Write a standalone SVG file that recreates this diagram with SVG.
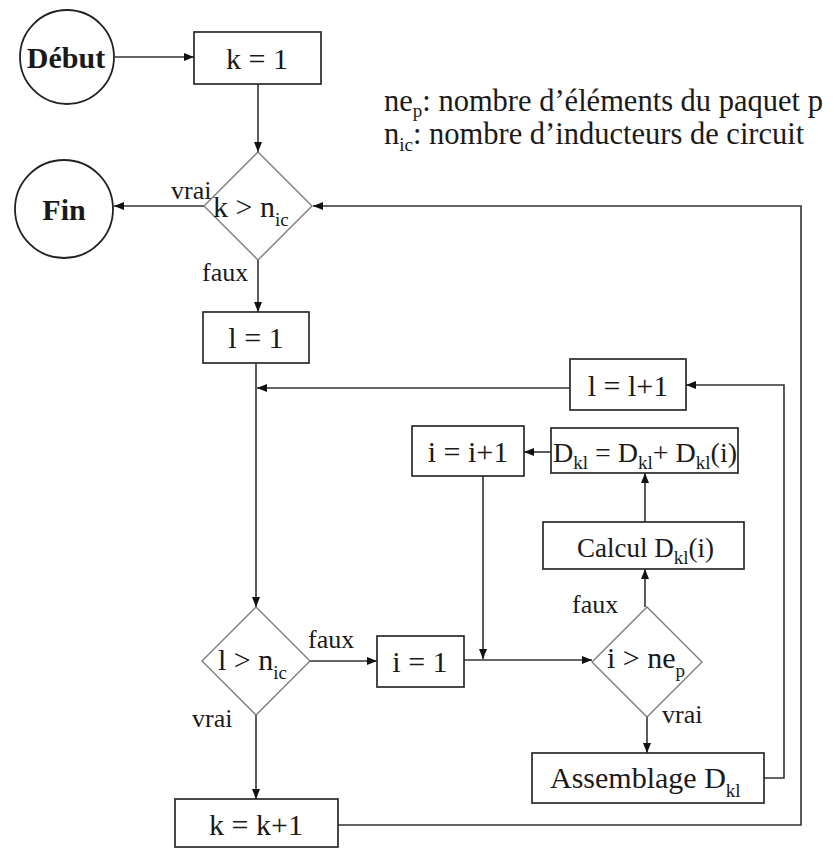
<svg xmlns="http://www.w3.org/2000/svg" width="834" height="848" viewBox="0 0 834 848" font-family="'Liberation Serif', 'Times New Roman', serif">
<defs>
<style>
.box{fill:#fff;stroke:#2a2a2a;stroke-width:1.7}
.dia{fill:#fff;stroke:#777;stroke-width:1.3}
.circ{fill:#fff;stroke:#222;stroke-width:1.8}
.ln{fill:none;stroke:#333;stroke-width:1.6}
text{font-family:"Liberation Serif","Times New Roman",serif;fill:#1a1a1a}
.t{font-size:30px}
.m{text-anchor:middle}
.b{font-weight:bold}
.lab{font-size:26px}
.s{font-size:19px}
.leg{font-size:30.5px}
</style>
<marker id="ah" viewBox="0 0 10 10" refX="10" refY="5" markerWidth="10" markerHeight="10" markerUnits="userSpaceOnUse" orient="auto">
<path d="M0,1 L10,5 L0,9 Z" fill="#111"/>
</marker>
</defs>
<rect width="834" height="848" fill="#fff"/>

<g id="connectors">
<line class="ln" x1="115" y1="57" x2="194" y2="57" marker-end="url(#ah)"/>
<line class="ln" x1="258" y1="84" x2="258" y2="152" marker-end="url(#ah)"/>
<line class="ln" x1="204" y1="206" x2="114" y2="206" marker-end="url(#ah)"/>
<line class="ln" x1="258" y1="260" x2="258" y2="312" marker-end="url(#ah)"/>
<line class="ln" x1="256" y1="363" x2="256" y2="607" marker-end="url(#ah)"/>
<line class="ln" x1="570" y1="388" x2="257" y2="388" marker-end="url(#ah)"/>
<line class="ln" x1="310" y1="661" x2="377" y2="661" marker-end="url(#ah)"/>
<line class="ln" x1="256" y1="715" x2="256" y2="799" marker-end="url(#ah)"/>
<polyline class="ln" points="338,825 801,825 801,206 313,206" marker-end="url(#ah)"/>
<line class="ln" x1="464" y1="660" x2="592" y2="660" marker-end="url(#ah)"/>
<line class="ln" x1="483" y1="476" x2="483" y2="659" marker-end="url(#ah)"/>
<line class="ln" x1="645" y1="607" x2="645" y2="569" marker-end="url(#ah)"/>
<line class="ln" x1="645" y1="522" x2="645" y2="473" marker-end="url(#ah)"/>
<line class="ln" x1="551" y1="452" x2="524" y2="452" marker-end="url(#ah)"/>
<line class="ln" x1="647" y1="717" x2="647" y2="753" marker-end="url(#ah)"/>
<polyline class="ln" points="764,778 784,778 784,385 686,385" marker-end="url(#ah)"/>
</g>

<g id="debut">
<circle class="circ" cx="67" cy="57" r="47"/>
<text class="t m b" x="66" y="68">Début</text>
</g>
<g id="fin">
<circle class="circ" cx="64" cy="209" r="49"/>
<text class="t m b" x="64" y="220">Fin</text>
</g>
<g id="k1">
<rect class="box" x="194" y="32" width="127" height="52"/>
<text class="t m" x="257" y="69">k = 1</text>
</g>
<g id="legend">
<text class="leg" x="384" y="111">ne<tspan class="s" dy="6">p</tspan><tspan dy="-6">: nombre d’éléments du paquet p</tspan></text>
<text class="leg" x="384" y="144">n<tspan class="s" dy="7">ic</tspan><tspan dy="-7">: nombre d’inducteurs de circuit</tspan></text>
</g>
<g id="cond_k">
<polygon class="dia" points="258,152 312,206 258,260 204,206"/>
<text class="t" x="213" y="217">k &gt; n<tspan class="s" dy="9">ic</tspan></text>
<text class="lab" x="171" y="199">vrai</text>
<text class="lab" x="202" y="281">faux</text>
</g>
<g id="l1">
<rect class="box" x="203" y="312" width="106" height="51"/>
<text class="t m" x="256" y="348">l = 1</text>
</g>
<g id="linc">
<rect class="box" x="570" y="359" width="116" height="51"/>
<text class="t m" x="628" y="396">l = l+1</text>
</g>
<g id="iinc">
<rect class="box" x="412" y="426" width="112" height="50"/>
<text class="t m" x="468" y="462">i = i+1</text>
</g>
<g id="dsum">
<rect class="box" x="551" y="428" width="187" height="45"/>
<text x="553" y="462" style="font-size:28px">D<tspan class="s" dy="7">kl</tspan><tspan dy="-7"> = D</tspan><tspan class="s" dy="7">kl</tspan><tspan dy="-7">+ D</tspan><tspan class="s" dy="7">kl</tspan><tspan dy="-7">(i)</tspan></text>
</g>
<g id="calcul">
<rect class="box" x="543" y="522" width="201" height="47"/>
<text x="577" y="557" style="font-size:27px">Calcul D<tspan class="s" dy="7">kl</tspan><tspan dy="-7">(i)</tspan></text>
</g>
<g id="cond_l">
<polygon class="dia" points="256,607 310,661 256,715 202,661"/>
<text class="t" x="218" y="670">l &gt; n<tspan class="s" dy="9">ic</tspan></text>
<text class="lab" x="308" y="648">faux</text>
<text class="lab" x="192" y="727">vrai</text>
</g>
<g id="i1">
<rect class="box" x="377" y="636" width="87" height="51"/>
<text class="t m" x="420" y="672">i = 1</text>
</g>
<g id="cond_i">
<polygon class="dia" points="647,607 702,662 647,717 592,662"/>
<text class="t" x="607" y="668">i &gt; ne<tspan class="s" dy="9">p</tspan></text>
<text class="lab" x="572" y="613">faux</text>
<text class="lab" x="662" y="723">vrai</text>
</g>
<g id="assemblage">
<rect class="box" x="532" y="753" width="232" height="50"/>
<text class="t" x="550" y="788">Assemblage D<tspan class="s" dy="9">kl</tspan></text>
</g>
<g id="kinc">
<rect class="box" x="175" y="799" width="163" height="48"/>
<text class="t m" x="256" y="835">k = k+1</text>
</g>
</svg>
